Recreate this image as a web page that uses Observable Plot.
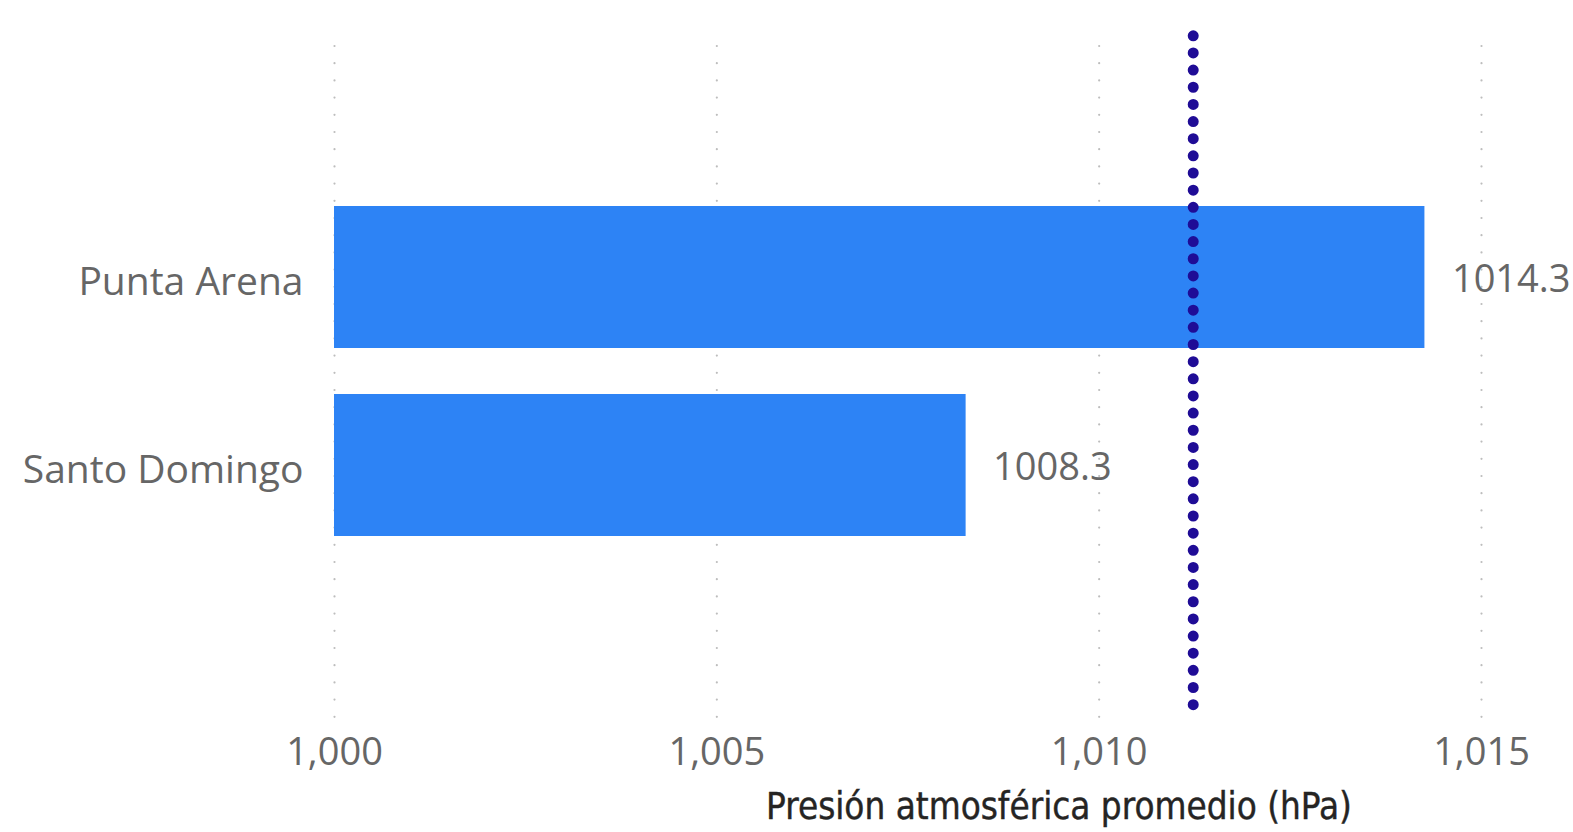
<!DOCTYPE html>
<html>
<head>
<meta charset="utf-8">
<script src="https://cdn.jsdelivr.net/npm/d3@7"></script>
<script src="https://cdn.jsdelivr.net/npm/@observablehq/plot@0.6"></script>
<style>
  body { margin: 0; background: #fff; }
  #chart svg { display: block; }
  #title {
    font-family: "DejaVu Sans Condensed", "DejaVu Sans", sans-serif;
    font-size: 36.5px;
    color: #252423;
    text-align: center;
    padding-left: 545px;
    width: 1028px;
    height: 50px;
    line-height: 50px;
    white-space: nowrap;
    -webkit-text-stroke: 0.4px #252423;
  }
</style>
</head>
<body>
<div id="chart"></div>
<div id="title"></div>
<script>
// ---- data ----
const stations = ["Punta Arena", "Santo Domingo"];
const pressure = [1014.26, 1008.26];
const referenceLine = [1011.23];
const xTicks = [1000, 1005, 1010, 1015];
const xDomain = [1000, 1015];
const axisTitle = "Presión atmosférica promedio (hPa)";

const data = stations.map((name, i) => ({name, value: pressure[i]}));

const chart = Plot.plot({
  width: 1573,
  height: 782,
  marginLeft: 334,
  marginRight: 92,
  marginTop: 46,
  marginBottom: 67,
  style: {fontFamily: "'Open Sans', 'Noto Sans', sans-serif", fontSize: "38px", color: "#666", background: "#fff"},
  x: {domain: xDomain, ticks: xTicks, tickFormat: d3.format(",")},
  y: {domain: stations, range: [183, 559], paddingInner: 0.245, paddingOuter: 0.1225},
  marks: [
    Plot.ruleX(xTicks, {stroke: "#bdbdbd", strokeWidth: 2.2, strokeLinecap: "round", strokeDasharray: "0,17.2", insetBottom: -2}),
    Plot.barX(data, {x1: () => xDomain[0], x2: "value", y: "name", fill: "#2D83F5"}),
    Plot.text(data, {x: "value", y: "name", text: d => d.value.toFixed(1), textAnchor: "start", dx: 27, dy: 2, fill: "#666", fontSize: 38}),
    Plot.ruleX(referenceLine, {stroke: "#1F0C96", strokeWidth: 11, strokeLinecap: "round", strokeDasharray: "0,17.15", insetTop: -10.2, insetBottom: 9.5}),
    Plot.axisX({ticks: xTicks, tickFormat: d3.format(","), tickSize: 0, tickPadding: 23, label: null, fontSize: 38}),
    Plot.axisY({tickSize: 0, tickPadding: 31, label: null, fontSize: 39, dy: 5})
  ]
});
document.getElementById("chart").appendChild(chart);
document.getElementById("title").textContent = axisTitle;
</script>
</body>
</html>
